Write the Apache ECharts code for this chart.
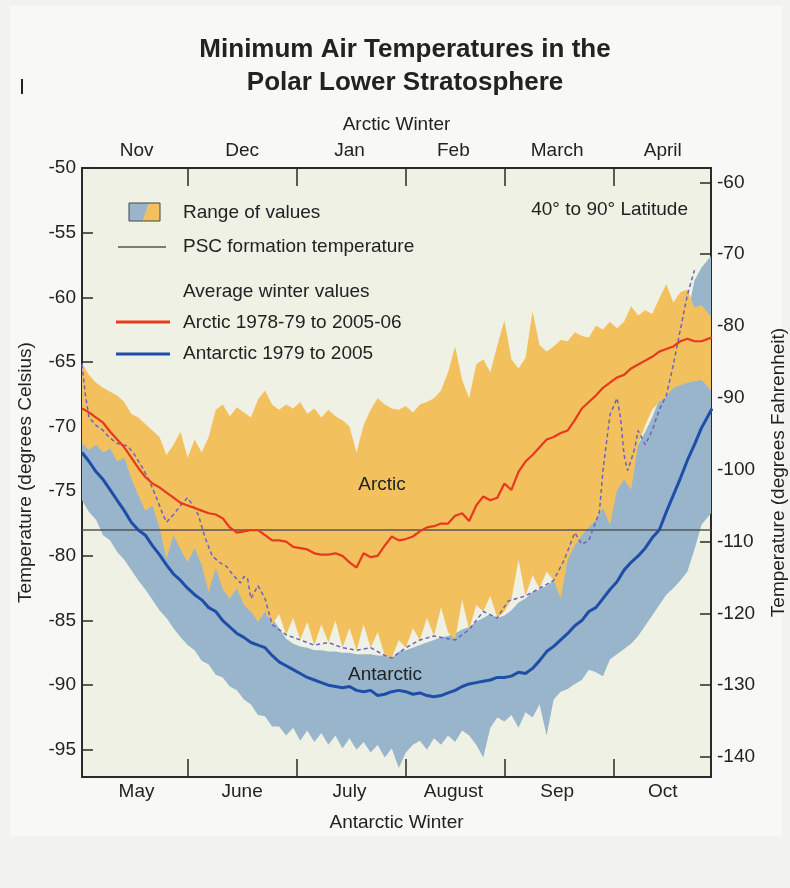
<!DOCTYPE html>
<html>
<head>
<meta charset="utf-8">
<script src="https://cdn.jsdelivr.net/npm/echarts@6/dist/echarts.min.js"></script>
<style>
  html, body { margin: 0; padding: 0; background: #f2f2f0; }
  #chart { width: 790px; height: 888px; }
</style>
</head>
<body>
<div id="chart"></div>
<script>
// Day of winter: 0 = Nov 1 (Arctic) / May 1 (Antarctic)
const days = [
  0, 2, 4, 6, 8, 10, 12, 14, 16, 18,
  20, 22, 24, 26, 28, 30, 32, 34, 36, 38,
  40, 42, 44, 46, 48, 50, 52, 54, 56, 58,
  60, 62, 64, 66, 68, 70, 72, 74, 76, 78,
  80, 82, 84, 86, 88, 90, 92, 94, 96, 98,
  100, 102, 104, 106, 108, 110, 112, 114, 116, 118,
  120, 122, 124, 126, 128, 130, 132, 134, 136, 138,
  140, 142, 144, 146, 148, 150, 152, 154, 156, 158,
  160, 162, 164, 166, 168, 170, 172, 174, 176, 179
];

// Arctic range of daily minimum temperatures (deg C)
const arcticMax = [
  -65.1, -66.0, -66.6, -67.0, -67.3, -67.6, -68.1, -69.0, -69.3, -69.8,
  -70.3, -70.8, -72.2, -71.4, -70.4, -72.4, -71.0, -72.0, -70.8, -68.7,
  -68.3, -69.2, -68.5, -68.9, -69.3, -67.9, -67.2, -68.3, -68.7, -68.3,
  -68.6, -68.1, -69.0, -68.6, -69.3, -68.7, -69.2, -69.5, -70.0, -72.0,
  -69.9, -68.7, -67.8, -68.3, -68.6, -68.7, -68.4, -68.9, -68.3, -68.1,
  -67.8, -67.2, -65.8, -63.8, -66.4, -67.8, -65.2, -64.8, -65.8, -63.7,
  -61.8, -64.8, -65.5, -64.7, -61.1, -63.7, -64.2, -63.8, -63.3, -63.4,
  -62.7, -63.0, -63.1, -62.2, -62.5, -61.9, -62.4, -61.9, -60.7, -61.4,
  -61.0, -61.3, -60.1, -59.0, -60.4, -59.6, -59.4, -60.8, -60.6, -61.6
];
const arcticMin = [
  -71.3, -71.8, -71.4, -72.0, -71.7, -72.7, -72.4, -74.0, -75.3, -76.5,
  -76.1, -77.8, -80.2, -78.4, -79.5, -80.5, -79.4, -80.7, -82.8, -80.9,
  -82.6, -83.3, -82.5, -83.8, -84.3, -85.1, -84.3, -85.3, -84.5, -86.1,
  -84.8, -86.5, -85.1, -86.9, -85.3, -86.7, -85.0, -87.1, -85.6, -87.3,
  -85.3, -87.1, -85.9, -87.7, -87.9, -86.5, -87.1, -85.6, -86.5, -84.8,
  -86.2, -84.0, -85.9, -86.5, -83.4, -85.7, -83.8, -84.3, -83.1, -84.8,
  -84.3, -83.4, -80.3, -83.1, -81.5, -82.5, -81.2, -81.9, -83.3, -80.3,
  -79.2, -78.4, -77.8, -77.2, -76.3, -77.6, -74.9, -74.1, -74.9, -71.4,
  -69.9, -68.7, -68.1, -67.7, -67.0, -66.8, -66.6, -66.5, -66.4, -67.3
];

// Antarctic range of daily minimum temperatures (deg C)
const antarcticMax = [
  -69.5, -70.0, -70.2, -70.5, -70.8, -71.3, -71.8, -72.6, -73.5, -74.4,
  -75.0, -75.8, -76.6, -77.2, -77.8, -78.4, -79.0, -79.6, -80.2, -80.8,
  -81.4, -82.0, -82.4, -82.9, -83.4, -83.8, -84.2, -84.8, -85.6, -86.4,
  -86.8, -87.0, -87.1, -87.3, -87.3, -87.4, -87.4, -87.5, -87.5, -87.6,
  -87.6, -87.6, -87.7, -87.7, -87.9, -87.4, -87.3, -87.1, -86.9, -86.7,
  -86.5, -86.3, -86.2, -86.0, -85.7, -85.5, -85.1, -84.8, -84.5, -84.8,
  -84.6, -84.2, -83.6, -83.3, -82.8, -82.6, -82.3, -81.9, -81.5, -79.5,
  -78.8, -77.8, -77.2, -76.5, -75.7, -74.9, -73.7, -72.7, -71.8, -71.4,
  -70.4, -69.3, -67.9, -66.4, -64.8, -63.7, -61.4, -58.7, -57.7, -56.7
];
const antarcticMin = [
  -75.7, -76.6, -77.2, -78.4, -78.8, -79.7, -80.3, -81.1, -81.9, -82.6,
  -83.4, -84.2, -84.8, -85.6, -86.3, -86.9, -87.3, -88.1, -88.4, -89.2,
  -89.4, -90.1, -90.4, -91.1, -91.5, -92.3, -92.4, -93.2, -93.2, -93.9,
  -93.3, -94.3, -93.5, -94.4, -93.7, -94.6, -93.9, -94.9, -94.1, -95.0,
  -94.4, -95.2, -94.6, -95.6, -94.9, -96.4, -95.2, -94.6, -94.3, -95.0,
  -94.1, -94.6, -93.9, -94.4, -93.5, -93.9, -94.6, -95.6, -93.3, -92.5,
  -92.8, -92.3, -93.3, -92.1, -92.5, -91.5, -93.9, -91.1, -90.5, -90.3,
  -89.9, -89.6, -88.8, -89.0, -89.3, -88.0, -87.6, -87.2, -86.8, -86.2,
  -85.4, -84.6, -83.8, -83.0, -82.5, -81.9, -81.2, -79.5, -77.6, -76.6
];

// Average winter values (deg C)
const arcticMean = [
  -68.6, -68.9, -69.3, -69.7, -70.4, -71.0, -71.6, -72.4, -73.2, -73.9,
  -74.4, -74.7, -75.1, -75.5, -75.9, -76.1, -76.3, -76.5, -76.7, -76.8,
  -77.1, -77.8, -78.2, -78.1, -78.0, -78.0, -78.4, -78.8, -78.8, -78.9,
  -79.3, -79.4, -79.5, -79.8, -79.9, -79.9, -79.8, -80.0, -80.5, -80.9,
  -79.8, -80.1, -80.0, -79.2, -78.5, -78.8, -78.7, -78.5, -78.1, -77.8,
  -77.7, -77.5, -77.5, -76.9, -76.7, -77.3, -76.1, -75.4, -75.7, -75.5,
  -74.4, -74.9, -73.5, -72.7, -72.2, -71.6, -71.0, -70.8, -70.5, -70.3,
  -69.5, -68.6, -68.1, -67.6, -67.0, -66.6, -66.2, -66.0, -65.5, -65.2,
  -64.9, -64.6, -64.2, -64.0, -63.8, -63.4, -63.2, -63.4, -63.4, -63.1
];
const antarcticMean = [
  -72.0, -72.7, -73.5, -74.1, -74.9, -75.7, -76.5, -77.4, -78.0, -78.4,
  -79.2, -79.9, -80.7, -81.4, -81.9, -82.5, -83.0, -83.4, -84.0, -84.3,
  -85.0, -85.5, -86.0, -86.3, -86.7, -86.9, -87.1, -87.7, -88.2, -88.5,
  -88.8, -89.1, -89.4, -89.6, -89.8, -90.0, -90.1, -90.2, -90.1, -90.4,
  -90.5, -90.4, -90.8, -90.7, -90.5, -90.4, -90.5, -90.7, -90.6, -90.8,
  -90.9, -90.8, -90.6, -90.4, -90.1, -89.9, -89.8, -89.7, -89.6, -89.4,
  -89.4, -89.3, -89.0, -89.1, -88.7, -88.1, -87.4, -87.0, -86.5, -86.0,
  -85.4, -85.0, -84.3, -84.0, -83.3, -82.6, -82.0, -81.1, -80.5, -80.0,
  -79.4, -78.6, -78.0, -76.6, -75.3, -74.0, -72.6, -71.4, -70.1, -68.6
];

// Single cold Arctic winter (dashed trace)
const coldYearDays = [
  0, 1, 2, 4, 6, 8, 10, 13, 15, 17,
  19, 21, 23, 24, 26, 28, 30, 32, 33, 35,
  37, 39, 41, 43, 45, 46, 47, 48, 50, 52,
  54, 58, 62, 66, 70, 74, 78, 82, 86, 88,
  92, 96, 100, 106, 110, 114, 118, 121, 126, 130,
  134, 137, 140, 142, 144, 147, 148, 150, 152, 153,
  154, 155, 156, 157, 158, 160, 162, 164, 166, 168,
  170, 172, 174
];
const coldYearTemps = [
  -65.2, -67.6, -69.3, -69.9, -70.3, -70.9, -71.3, -71.5, -72.2, -73.1,
  -74.1, -75.4, -76.8, -77.4, -76.8, -76.1, -75.5, -76.3, -76.8, -78.6,
  -80.0, -80.5, -80.8, -81.5, -82.1, -81.6, -81.7, -83.3, -82.3, -83.3,
  -85.3, -86.1, -86.5, -86.9, -86.7, -87.1, -87.3, -87.1, -87.7, -87.9,
  -87.1, -86.5, -86.2, -86.5, -85.7, -84.3, -84.8, -83.5, -83.1, -82.5,
  -81.9, -80.3, -78.2, -79.1, -78.8, -76.6, -73.4, -69.1, -67.8, -69.3,
  -72.2, -73.4, -72.6, -71.7, -70.3, -71.4, -70.3, -68.7, -67.6, -65.2,
  -62.5, -59.8, -57.9
];

const pscTemp = -78;

const celsiusTicks = [-50, -55, -60, -65, -70, -75, -80, -85, -90, -95];
const fahrenheitTicks = [-60, -70, -80, -90, -100, -110, -120, -130, -140];
const monthBoundaries = [30, 61, 92, 120, 151];
const monthCenters = [15.5, 45.5, 76, 105.5, 135, 165];
const arcticMonths = ['Nov', 'Dec', 'Jan', 'Feb', 'March', 'April'];
const antarcticMonths = ['May', 'June', 'July', 'August', 'Sep', 'Oct'];

const C_MIN = -97.1, C_MAX = -50, DAY_MAX = 178.7;
const toF = c => c * 9 / 5 + 32;

const FONT = '"Liberation Sans", Arial, Helvetica, sans-serif';
const INK = '#222';
const FRAME = '#2a2a2a';
const YELLOW = '#f2c15e';
const BLUE_BAND = '#98b5cc';
const RED = '#e8381d';
const BLUE = '#1f4ea8';
const DASH = '#6a63c4';

const pairs = (xs, ys) => xs.map((x, i) => [x, ys[i]]);

// Filled band between two bounds, projected through the axes
function band(lo, hi, color, z) {
  return {
    type: 'custom',
    xAxisIndex: 0, yAxisIndex: 0,
    clip: true, silent: true, z: z,
    data: [[days[0], lo[0]]],
    renderItem(params, api) {
      const pts = [];
      for (let i = 0; i < days.length; i++) pts.push(api.coord([days[i], hi[i]]));
      for (let i = days.length - 1; i >= 0; i--) pts.push(api.coord([days[i], lo[i]]));
      return { type: 'polygon', shape: { points: pts }, style: { fill: color } };
    }
  };
}

function xAxisFor(position, names, title, labelMargin, nameGap) {
  return {
    type: 'value', position: position, min: 0, max: DAY_MAX,
    name: title, nameLocation: 'middle', nameGap: nameGap,
    nameTextStyle: { fontSize: 19, color: INK, fontFamily: FONT },
    axisLine: { show: true, onZero: false, lineStyle: { color: FRAME, width: 2 } },
    axisTick: { show: true, inside: true, length: 18, customValues: monthBoundaries,
                lineStyle: { color: FRAME, width: 1.5 } },
    axisLabel: { customValues: monthCenters, margin: labelMargin,
                 formatter: v => names[monthCenters.indexOf(v)],
                 fontSize: 19, color: INK, fontFamily: FONT },
    splitLine: { show: false }
  };
}

const chart = echarts.init(document.getElementById('chart'), null, { renderer: 'canvas' });

chart.setOption({
  animation: false,
  backgroundColor: '#f2f2f0',
  grid: { left: 82, right: 79, top: 168, bottom: 111, show: true,
          outerBoundsMode: 'none', containLabel: false,
          backgroundColor: '#eef1e3', borderWidth: 0 },
  xAxis: [
    xAxisFor('bottom', antarcticMonths, 'Antarctic Winter', 5, 36),
    xAxisFor('top', arcticMonths, 'Arctic Winter', 8, 34)
  ],
  yAxis: [
    {
      type: 'value', position: 'left', min: C_MIN, max: C_MAX,
      name: 'Temperature (degrees Celsius)', nameLocation: 'middle', nameGap: 47, nameRotate: 90,
      nameTextStyle: { fontSize: 19, color: INK, fontFamily: FONT },
      axisLine: { show: true, onZero: false, lineStyle: { color: FRAME, width: 2 } },
      axisTick: { show: true, inside: true, length: 11, customValues: celsiusTicks,
                  lineStyle: { color: FRAME, width: 1.5 } },
      axisLabel: { customValues: celsiusTicks, margin: 6, fontSize: 19, color: INK, fontFamily: FONT },
      splitLine: { show: false }
    },
    {
      type: 'value', position: 'right', min: toF(C_MIN), max: toF(C_MAX),
      name: 'Temperature (degrees Fahrenheit)', nameLocation: 'middle', nameGap: 58, nameRotate: 90,
      nameTextStyle: { fontSize: 19, color: INK, fontFamily: FONT },
      axisLine: { show: true, onZero: false, lineStyle: { color: FRAME, width: 2 } },
      axisTick: { show: true, inside: true, length: 11, customValues: fahrenheitTicks,
                  lineStyle: { color: FRAME, width: 1.5 } },
      axisLabel: { customValues: fahrenheitTicks, margin: 6, fontSize: 19, color: INK, fontFamily: FONT },
      splitLine: { show: false }
    }
  ],
  series: [
    band(antarcticMin, antarcticMax, BLUE_BAND, 1),
    band(arcticMin, arcticMax, YELLOW, 2),
    {
      name: 'PSC formation temperature', type: 'line', z: 3, silent: true,
      data: [[0, pscTemp], [DAY_MAX, pscTemp]], showSymbol: false,
      lineStyle: { color: '#555', width: 1.5 }
    },
    {
      name: 'Cold winter', type: 'line', z: 4, silent: true, clip: true,
      data: pairs(coldYearDays, coldYearTemps), showSymbol: false,
      lineStyle: { color: DASH, width: 1.5, type: [4, 3] }
    },
    {
      name: 'Arctic 1978-79 to 2005-06', type: 'line', z: 5, silent: true, clip: true,
      data: pairs(days, arcticMean), showSymbol: false,
      lineStyle: { color: RED, width: 2.2 }
    },
    {
      name: 'Antarctic 1979 to 2005', type: 'line', z: 5, silent: true, clip: true,
      data: pairs(days, antarcticMean), showSymbol: false,
      lineStyle: { color: BLUE, width: 3 }
    }
  ],
  graphic: [
    // panel
    { type: 'rect', z: -10, shape: { x: 10, y: 6, width: 772, height: 830 },
      style: { fill: '#f8f8f6' } },
    { type: 'rect', shape: { x: 21, y: 79, width: 2, height: 15 }, style: { fill: '#222' } },
    // title
    { type: 'text', x: 405, y: 50, style: { text: 'Minimum Air Temperatures in the',
      font: 'bold 26px ' + FONT, fill: INK, align: 'center', verticalAlign: 'middle' } },
    { type: 'text', x: 405, y: 83, style: { text: 'Polar Lower Stratosphere',
      font: 'bold 26px ' + FONT, fill: INK, align: 'center', verticalAlign: 'middle' } },
    // legend
    { type: 'polygon', z: 10, shape: { points: [[129, 203], [149, 203], [143, 221], [129, 221]] },
      style: { fill: BLUE_BAND } },
    { type: 'polygon', z: 10, shape: { points: [[149, 203], [160, 203], [160, 221], [143, 221]] },
      style: { fill: YELLOW } },
    { type: 'rect', z: 11, shape: { x: 129, y: 203, width: 31, height: 18 },
      style: { fill: 'none', stroke: '#444', lineWidth: 1 } },
    { type: 'text', z: 10, x: 183, y: 213, style: { text: 'Range of values',
      font: '19px ' + FONT, fill: INK, verticalAlign: 'middle' } },
    { type: 'line', z: 10, shape: { x1: 118, y1: 247, x2: 166, y2: 247 },
      style: { stroke: '#555', lineWidth: 1.5 } },
    { type: 'text', z: 10, x: 183, y: 247, style: { text: 'PSC formation temperature',
      font: '19px ' + FONT, fill: INK, verticalAlign: 'middle' } },
    { type: 'text', z: 10, x: 183, y: 292, style: { text: 'Average winter values',
      font: '19px ' + FONT, fill: INK, verticalAlign: 'middle' } },
    { type: 'line', z: 10, shape: { x1: 116, y1: 322, x2: 170, y2: 322 },
      style: { stroke: RED, lineWidth: 3 } },
    { type: 'text', z: 10, x: 183, y: 323, style: { text: 'Arctic 1978-79 to 2005-06',
      font: '19px ' + FONT, fill: INK, verticalAlign: 'middle' } },
    { type: 'line', z: 10, shape: { x1: 116, y1: 354, x2: 170, y2: 354 },
      style: { stroke: BLUE, lineWidth: 3 } },
    { type: 'text', z: 10, x: 183, y: 354, style: { text: 'Antarctic 1979 to 2005',
      font: '19px ' + FONT, fill: INK, verticalAlign: 'middle' } },
    { type: 'text', z: 10, x: 688, y: 210, style: { text: '40° to 90° Latitude',
      font: '19px ' + FONT, fill: INK, align: 'right', verticalAlign: 'middle' } },
    // region labels
    { type: 'text', z: 10, x: 382, y: 485, style: { text: 'Arctic',
      font: '19px ' + FONT, fill: INK, align: 'center', verticalAlign: 'middle' } },
    { type: 'text', z: 10, x: 385, y: 675, style: { text: 'Antarctic',
      font: '19px ' + FONT, fill: INK, align: 'center', verticalAlign: 'middle' } }
  ]
});
</script>
</body>
</html>
